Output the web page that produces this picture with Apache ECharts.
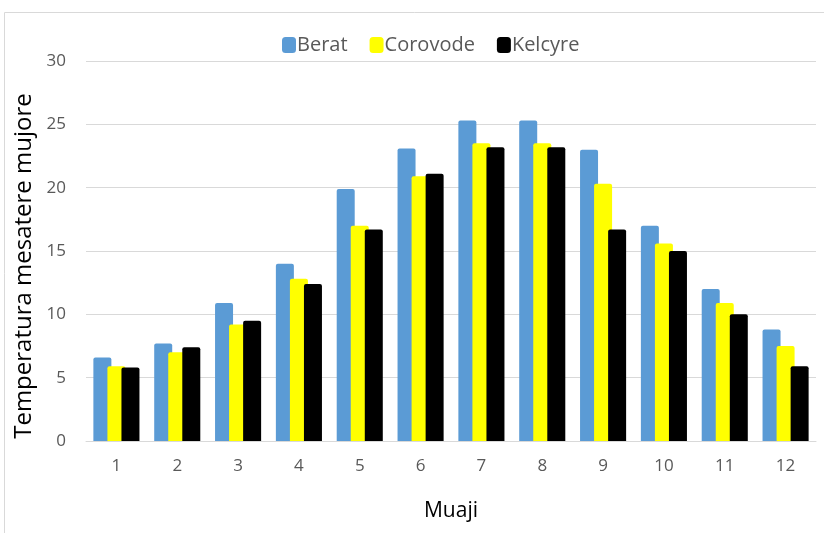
<!DOCTYPE html>
<html>
<head>
<meta charset="utf-8">
<script src="https://cdn.jsdelivr.net/npm/echarts@6/dist/echarts.min.js"></script>
<style>
  html, body { margin: 0; padding: 0; background: #fff; }
  #chart { width: 824px; height: 533px; }
</style>
</head>
<body>
<div id="chart"></div>
<script>
// muajt
const months = ['1', '2', '3', '4', '5', '6', '7', '8', '9', '10', '11', '12']
// temperatura mesatare mujore per stacion
const berat = [6.6, 7.7, 10.9, 14.0, 19.9, 23.1, 25.3, 25.3, 23.0, 17.0, 12.0, 8.8]
const corovode = [5.9, 7.0, 9.2, 12.8, 17.0, 20.9, 23.5, 23.5, 20.3, 15.6, 10.9, 7.5]
const kelcyre = [5.8, 7.4, 9.5, 12.4, 16.7, 21.1, 23.2, 23.2, 16.7, 15.0, 10.0, 5.9]
const seriesNames = ['Berat', 'Corovode', 'Kelcyre']
const seriesColors = ['#5b9bd5', '#ffff00', '#000000']

const font = '"Open Sans", sans-serif'

const chart = echarts.init(document.getElementById('chart'))

const options = {
  animation: false,
  textStyle: { fontFamily: font },
  // --- korniza e grafikut ---
  graphic: [{
    type: 'rect',
    shape: { x: 4.5, y: 12.5, width: 900, height: 600 },
    style: { fill: 'none', stroke: '#d9d9d9', lineWidth: 1 },
    silent: true
  }],
  legend: {
    top: 30,
    left: 277,
    itemWidth: 14,
    itemHeight: 16,
    itemGap: 22,
    icon: 'roundRect',
    textStyle: { fontSize: 20, color: '#595959', padding: [0, 0, 0, -4] },
    data: seriesNames
  },
  grid: {
    left: 86,
    right: 8,
    top: 61,
    bottom: 92,
    containLabel: false
  },
  xAxis: {
    type: 'category',
    data: months,
    name: 'Muaji',
    nameLocation: 'middle',
    nameGap: 60,
    nameTextStyle: { fontSize: 21, color: '#000' },
    axisLine: { show: true, lineStyle: { color: '#d9d9d9', width: 1 } },
    axisTick: { show: false },
    axisLabel: { fontSize: 17, color: '#595959', margin: 17 }
  },
  yAxis: {
    type: 'value',
    min: 0,
    max: 30,
    interval: 5,
    name: 'Temperatura mesatere mujore',
    nameLocation: 'middle',
    nameGap: 44,
    nameTextStyle: { fontSize: 24, color: '#000', padding: [0, 30, 0, 0] },
    axisLine: { show: false },
    axisTick: { show: false },
    axisLabel: { fontSize: 17, color: '#595959', margin: 20 },
    splitLine: { lineStyle: { color: '#d9d9d9', width: 1 } }
  },
  series: []
}

const values = [berat, corovode, kelcyre]
values.forEach((v, i) => {
  options.series.push({
    name: seriesNames[i],
    type: 'bar',
    barWidth: 18,
    barGap: '-22%',
    itemStyle: {
      color: seriesColors[i],
      borderRadius: [2, 2, 0, 0]
    },
    data: v
  })
})

chart.setOption(options)
</script>
</body>
</html>
